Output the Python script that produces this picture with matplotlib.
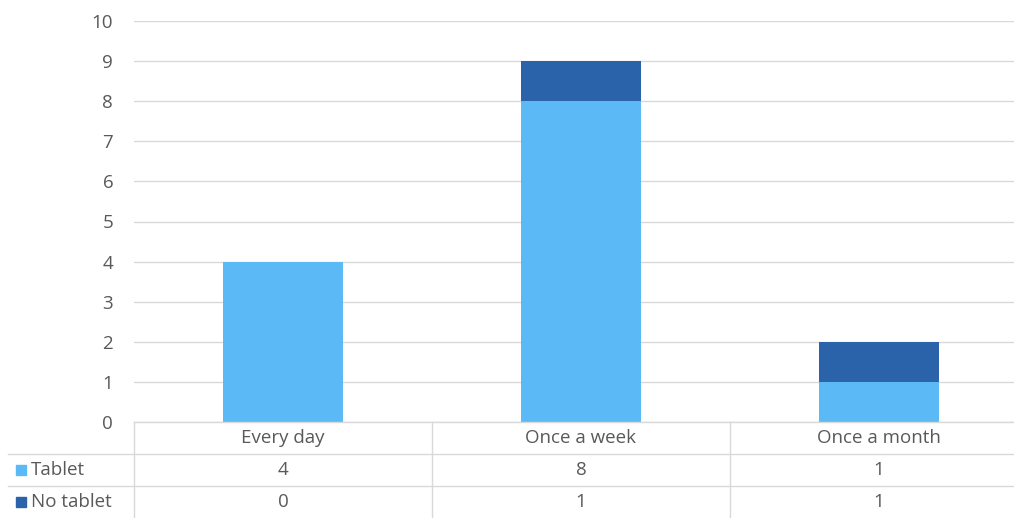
import matplotlib
matplotlib.use("Agg")
import matplotlib.pyplot as plt
from matplotlib.transforms import blended_transform_factory
from matplotlib.patches import Rectangle
from matplotlib.lines import Line2D

categories = ["Every day", "Once a week", "Once a month"]
series_names = ["Tablet", "No tablet"]
tablet = [4, 8, 1]
no_tablet = [0, 1, 1]
colors = ["#5BB9F5", "#2A63AA"]
y_ticks = list(range(0, 11))

W, H = 1014, 518
fig = plt.figure(figsize=(W / 100, H / 100), dpi=100)
plt.rcParams["font.family"] = ["Open Sans", "DejaVu Sans"]
text_color = "#595959"
grid_color = "#D9D9D9"
fs = 13.5

def fx(px):
    return px / W

def fy(py):
    return 1 - py / H

# plot area (extends slightly past the right edge)
left_px, right_px, top_px, base_px = 134, 1028, 21, 422
ax = fig.add_axes([fx(left_px), fy(base_px), fx(right_px - left_px), fy(top_px) - fy(base_px)])
ax.set_xlim(-0.5, len(categories) - 0.5)
ax.set_ylim(0, 10)

x = list(range(len(categories)))
ax.bar(x, tablet, width=0.4, color=colors[0], zorder=3)
ax.bar(x, no_tablet, width=0.4, bottom=tablet, color=colors[1], zorder=3)

ax.set_yticks(y_ticks)
ax.set_yticklabels([str(v) for v in y_ticks], color=text_color, fontsize=fs)
ax.tick_params(axis="y", length=0, pad=15)
ax.set_xticks([])
ax.grid(axis="y", color=grid_color, linewidth=1, zorder=0)
for s in ax.spines.values():
    s.set_visible(False)

# data table beneath the chart
bt = blended_transform_factory(ax.transData, fig.transFigure)
row_px = [422, 454, 486, 518]
edges = [-0.5 + i for i in range(len(categories) + 1)]

def hline(py, x0_px):
    fig.add_artist(Line2D([fx(x0_px), 1.0], [fy(py), fy(py)], color=grid_color, lw=1,
                          transform=fig.transFigure))

hline(422, left_px)
hline(454, 8)
hline(486, 8)
for e in edges[:-1]:
    fig.add_artist(Line2D([e, e], [fy(422), 0], color=grid_color, lw=1, transform=bt))

for i, cat in enumerate(categories):
    fig.text(i, fy((row_px[0] + row_px[1]) / 2), cat, transform=bt, ha="center", va="center",
             color=text_color, fontsize=fs)
    for r, vals in enumerate([tablet, no_tablet]):
        fig.text(i, fy((row_px[r + 1] + row_px[r + 2]) / 2), str(vals[i]), transform=bt,
                 ha="center", va="center", color=text_color, fontsize=fs)

for r, name in enumerate(series_names):
    yc = (row_px[r + 1] + row_px[r + 2]) / 2
    fig.add_artist(Rectangle((fx(16), fy(yc + 5)), fx(10), fy(yc - 5) - fy(yc + 5),
                             color=colors[r], transform=fig.transFigure))
    fig.text(fx(31), fy(yc), name, ha="left", va="center", color=text_color, fontsize=fs)

fig.savefig("out.png", dpi=100)
